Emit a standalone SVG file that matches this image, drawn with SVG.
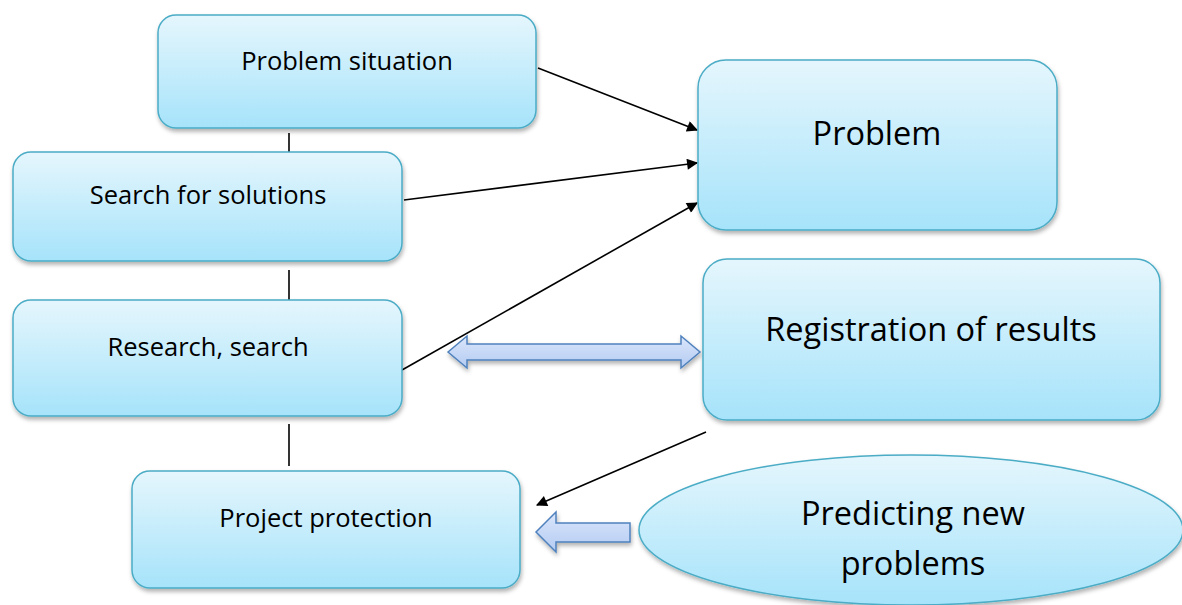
<svg xmlns="http://www.w3.org/2000/svg" width="1182" height="605" viewBox="0 0 1182 605">
<style>
.box{stroke:#4bacc6;stroke-width:1.5;fill:url(#g);filter:url(#sh)}
.t{font-family:"Open Sans",Lato,sans-serif;fill:#000;text-anchor:middle}
.s{font-size:25.5px}
.b{font-size:32.5px}
.ln{stroke:#000;stroke-width:1.6;fill:none}
.blk{fill:url(#bg);stroke:#4f81bd;stroke-width:1.5;filter:url(#sh)}
</style>
<defs>
<linearGradient id="g" x1="0" y1="0" x2="0" y2="1">
<stop offset="0" stop-color="#e5f6fd"/>
<stop offset="1" stop-color="#a6e3fa"/>
</linearGradient>
<linearGradient id="bg" x1="0" y1="0" x2="0" y2="1">
<stop offset="0" stop-color="#dae6fb"/>
<stop offset="1" stop-color="#b4cbf2"/>
</linearGradient>
<filter id="sh" x="-10%" y="-10%" width="120%" height="130%">
<feDropShadow dx="1" dy="3" stdDeviation="2" flood-color="#000" flood-opacity="0.3"/>
</filter>
<marker id="ah" viewBox="0 0 10 10" refX="9" refY="5" markerWidth="12" markerHeight="11" markerUnits="userSpaceOnUse" orient="auto">
<path d="M0,0 L10,5 L0,10 z" fill="#000"/>
</marker>
</defs>
<g id="connectors">
<line class="ln" x1="289" y1="133" x2="289" y2="152"/>
<line class="ln" x1="289" y1="270" x2="289" y2="300"/>
<line class="ln" x1="289" y1="424" x2="289" y2="466"/>
<line class="ln" x1="538" y1="68" x2="697" y2="130" marker-end="url(#ah)"/>
<line class="ln" x1="404" y1="200" x2="697" y2="163" marker-end="url(#ah)"/>
<line class="ln" x1="402" y1="370" x2="697" y2="203" marker-end="url(#ah)"/>
<line class="ln" x1="706" y1="432" x2="537" y2="505" marker-end="url(#ah)"/>
<path class="blk" d="M448,352 L467,336 L467,344 L681,344 L681,336 L700,352 L681,368 L681,360 L467,360 L467,368 Z"/>
<path class="blk" d="M536,532 L556,512 L556,523 L630,523 L630,542 L556,542 L556,552 Z"/>
</g>
<g id="n1"><rect class="box" x="158" y="15" width="378" height="113" rx="18"/><text class="t s" x="347" y="70">Problem situation</text></g>
<g id="n2"><rect class="box" x="13" y="152" width="389" height="109" rx="18"/><text class="t s" x="208" y="204">Search for solutions</text></g>
<g id="n3"><rect class="box" x="13" y="300" width="389" height="116" rx="18"/><text class="t s" x="208" y="356">Research, search</text></g>
<g id="n4"><rect class="box" x="132" y="471" width="388" height="117" rx="18"/><text class="t s" x="326" y="527">Project protection</text></g>
<g id="n5"><rect class="box" x="698" y="60" width="359" height="170" rx="28"/><text class="t b" x="877" y="145">Problem</text></g>
<g id="n6"><rect class="box" x="703" y="259" width="457" height="161" rx="24"/><text class="t b" x="931" y="341">Registration of results</text></g>
<g id="n7"><ellipse class="box" cx="911" cy="530" rx="272" ry="75"/><text class="t b" x="913" y="525">Predicting new</text><text class="t b" x="913" y="575">problems</text></g>
</svg>
